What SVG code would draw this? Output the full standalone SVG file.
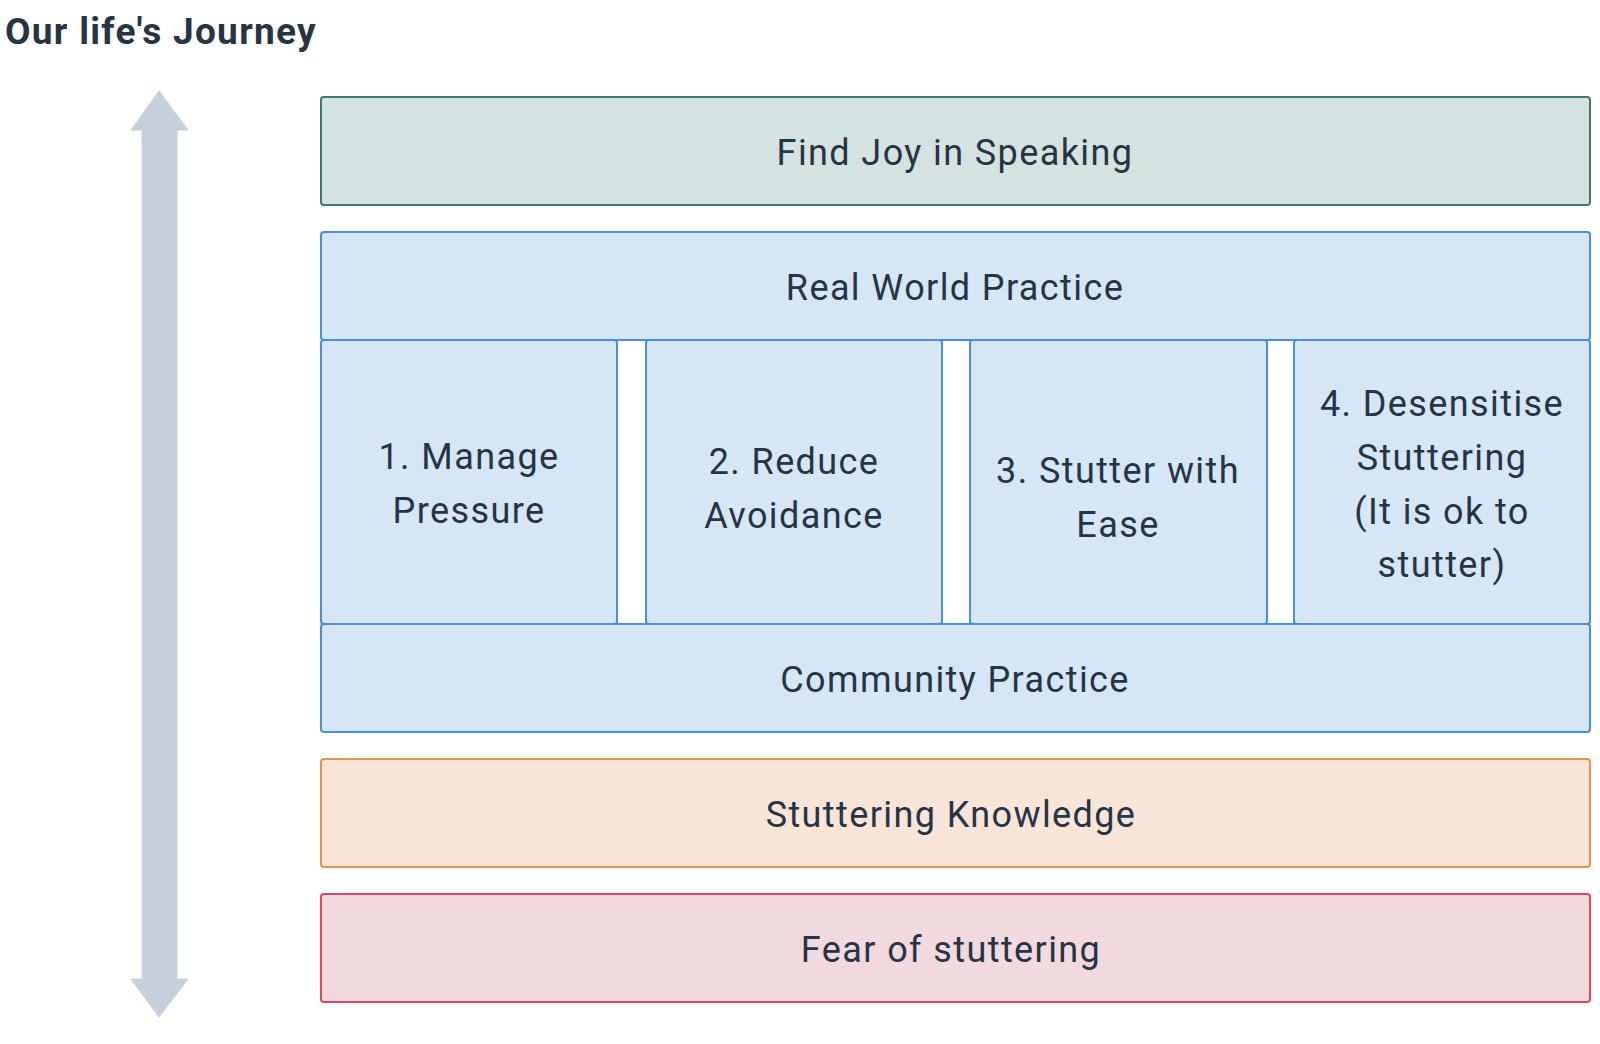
<svg xmlns="http://www.w3.org/2000/svg" width="1600" height="1044" viewBox="0 0 1600 1044">
<style>
  .t { font-family: Roboto, "Liberation Sans", sans-serif; font-size: 36px; fill: #263445; text-anchor: middle; dominant-baseline: central; letter-spacing: 1.4px; }
  .title { font-family: Roboto, "Liberation Sans", sans-serif; font-size: 37px; font-weight: bold; fill: #263445; letter-spacing: 1.3px; }
  .green { fill: #d4e3df; stroke: #3b7b69; stroke-width: 2; }
  .blue { fill: #d6e6f5; stroke: #4a8fdb; stroke-width: 2; }
  .orange { fill: #f8e5d8; stroke: #e8914a; stroke-width: 2; }
  .red { fill: #f2d9de; stroke: #d9485e; stroke-width: 2; }
</style>
<rect width="1600" height="1044" fill="#ffffff"/>
<text class="title" x="5" y="44">Our life's Journey</text>
<g id="connectors">
  <path d="M159 91 L188 130 L177 130 L177 979 L188 979 L159 1017 L131 979 L142 979 L142 130 L131 130 Z" fill="#c5d0da" stroke="#c5d0da" stroke-width="1" stroke-linejoin="round"/>
</g>
<g id="joy">
  <rect class="green" x="321" y="97" width="1269" height="108" rx="3"/>
  <text class="t" x="955" y="153">Find Joy in Speaking</text>
</g>
<g id="real-world">
  <rect class="blue" x="321" y="232" width="1269" height="108" rx="3"/>
  <text class="t" x="955" y="288">Real World Practice</text>
</g>
<g id="manage">
  <rect class="blue" x="321" y="340" width="296" height="284" rx="3"/>
  <text class="t" x="469" y="457">1. Manage</text>
  <text class="t" x="469" y="511">Pressure</text>
</g>
<g id="reduce">
  <rect class="blue" x="646" y="340" width="296" height="284" rx="3"/>
  <text class="t" x="794" y="462">2. Reduce</text>
  <text class="t" x="794" y="516">Avoidance</text>
</g>
<g id="ease">
  <rect class="blue" x="970" y="340" width="297" height="284" rx="3"/>
  <text class="t" x="1118" y="471">3. Stutter with</text>
  <text class="t" x="1118" y="525">Ease</text>
</g>
<g id="desensitise">
  <rect class="blue" x="1294" y="340" width="296" height="284" rx="3"/>
  <text class="t" x="1442" y="404">4. Desensitise</text>
  <text class="t" x="1442" y="458">Stuttering</text>
  <text class="t" x="1442" y="512">(It is ok to</text>
  <text class="t" x="1442" y="565">stutter)</text>
</g>
<g id="community">
  <rect class="blue" x="321" y="624" width="1269" height="108" rx="3"/>
  <text class="t" x="955" y="680">Community Practice</text>
</g>
<g id="knowledge">
  <rect class="orange" x="321" y="759" width="1269" height="108" rx="3"/>
  <text class="t" x="951" y="815">Stuttering Knowledge</text>
</g>
<g id="fear">
  <rect class="red" x="321" y="894" width="1269" height="108" rx="3"/>
  <text class="t" x="951" y="950">Fear of stuttering</text>
</g>
</svg>
